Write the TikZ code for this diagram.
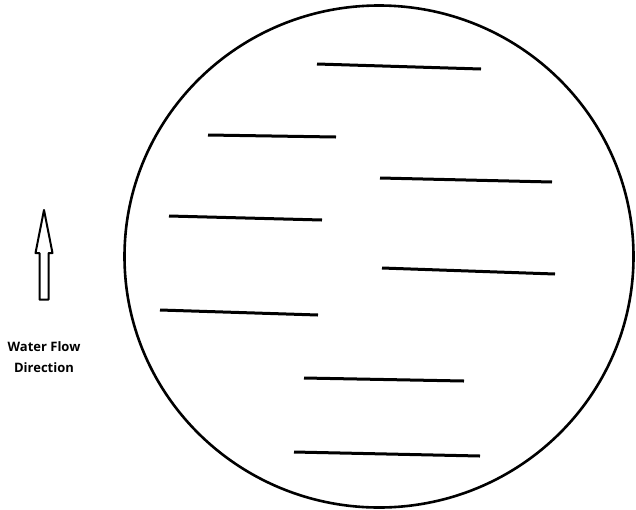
\documentclass[tikz,border=0pt]{standalone}
\usepackage{fontspec}
\setmainfont{Open Sans}
\usetikzlibrary{shapes.geometric}
\begin{document}
\begin{tikzpicture}[x=1pt,y=-1pt,
  seg/.style={line width=3pt},
  lbl/.style={font=\bfseries\fontsize{13}{21}\selectfont, align=center, inner sep=0pt}]
\useasboundingbox (0,0) rectangle (636,509);
\node[draw, ellipse, line width=2.6pt, minimum width=509pt, minimum height=502pt, inner sep=0pt] (c) at (379,256.5) {};
\draw[seg] (317,64) coordinate (a1) -- (481,69) coordinate (a2);
\draw[seg] (208,135) coordinate (b1) -- (336,137) coordinate (b2);
\draw[seg] (380,178) coordinate (c1) -- (552,182) coordinate (c2);
\draw[seg] (169,216) coordinate (d1) -- (322,220) coordinate (d2);
\draw[seg] (382,268) coordinate (e1) -- (555,274) coordinate (e2);
\draw[seg] (160,310) coordinate (f1) -- (318,315) coordinate (f2);
\draw[seg] (304,378) coordinate (g1) -- (464,381) coordinate (g2);
\draw[seg] (294,452) coordinate (h1) -- (480,456) coordinate (h2);
\draw[line width=2pt, line join=round] (44,210) -- (52.5,253) -- (48.5,253) -- (48.5,299.5) -- (39.5,299.5) -- (39.5,253) -- (35.5,253) -- cycle;
\node[lbl] (t) at (44,357) {Water Flow\\Direction};
\end{tikzpicture}
\end{document}
